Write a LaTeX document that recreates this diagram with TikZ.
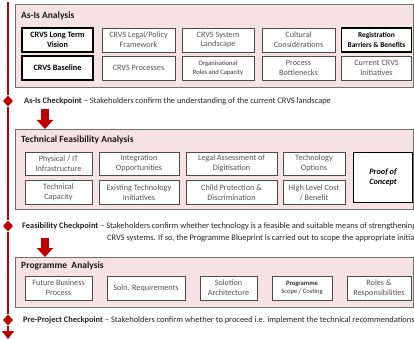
\documentclass[tikz,border=0pt]{standalone}
\usepackage{fontspec}
\setmainfont{Carlito}
\usetikzlibrary{arrows.meta,shapes.geometric}
\definecolor{pinkbg}{HTML}{F6E2E2}
\definecolor{panelline}{HTML}{6E6E6E}
\definecolor{boxline}{HTML}{4A4A4A}
\definecolor{txtgray}{HTML}{555555}
\definecolor{cpred}{HTML}{C00000}
\definecolor{cptext}{HTML}{262626}
\tikzset{
  panel/.style={draw=panelline, line width=1.3pt, fill=pinkbg, anchor=north west, inner sep=0pt},
  ptitle/.style={anchor=west, inner sep=0pt, font=\fontsize{9.5}{11}\selectfont\bfseries, text=black!90},
  box/.style={draw=boxline, line width=0.9pt, fill=white, align=center, inner sep=0pt,
    font=\fontsize{8.2}{9.8}\selectfont, text=txtgray},
  keybox/.style={box, draw=black, line width=1.1pt, text=black, font=\fontsize{8.2}{9.8}\selectfont\bfseries},
  cp/.style={anchor=west, inner sep=0pt, font=\fontsize{8.4}{9.8}\selectfont, text=cptext},
  cpdiam/.style={diamond, fill=cpred, minimum width=10pt, minimum height=11pt, inner sep=0pt},
  redline/.style={draw=cpred, line width=1.6pt},
  blockarrow/.style={draw=cpred, line width=8pt, -{Triangle[width=16pt,length=9pt]}},
}
\begin{document}
\begin{tikzpicture}[x=1pt,y=-1pt]
\useasboundingbox (0,0) rectangle (414,339);
\clip (0,0) rectangle (414,339);
\fill[white] (0,0) rectangle (414,339);

% panels
\node[panel, minimum width=398pt, minimum height=83pt] (p1) at (15,4) {};
\node[panel, minimum width=398pt, minimum height=80pt] (p2) at (15,129) {};
\node[panel, minimum width=398pt, minimum height=50pt] (p3) at (15,257) {};

% titles
\node[ptitle] (t1) at (21,16) {As-Is Analysis};
\node[ptitle] (t2) at (21,140) {Technical Feasibility Analysis};
\node[ptitle] (t3) at (21,266) {Programme\ \ Analysis};

% As-Is boxes
\node[keybox, minimum width=71pt, minimum height=24pt] (a11) at (57.5,40) {CRVS Long Term\\Vision};
\node[box, minimum width=73pt, minimum height=24pt] (a12) at (138.5,40) {CRVS Legal/Policy\\Framework};
\node[box, minimum width=72pt, minimum height=24pt] (a13) at (218,40) {CRVS System\\Landscape};
\node[box, minimum width=73pt, minimum height=24pt] (a14) at (298.5,40) {Cultural\\Considerations};
\node[keybox, minimum width=70pt, minimum height=24pt, font=\fontsize{7.4}{9.6}\selectfont\bfseries] (a15) at (376.5,40) {Registration\\Barriers \& Benefits};
\node[keybox, minimum width=71pt, minimum height=24pt] (a21) at (57.5,68) {CRVS Baseline};
\node[box, minimum width=73pt, minimum height=24pt] (a22) at (138.5,68) {CRVS Processes};
\node[box, minimum width=72pt, minimum height=24pt, font=\fontsize{6.6}{8.8}\selectfont, text=black!80] (a23) at (218,68) {Organisational\\Roles and Capacity};
\node[box, minimum width=73pt, minimum height=24pt] (a24) at (298.5,68) {Process\\Bottlenecks};
\node[box, minimum width=70pt, minimum height=24pt] (a25) at (376.5,68) {Current CRVS\\Initiatives};

% Technical feasibility boxes
\node[box, minimum width=67pt, minimum height=23pt] (b11) at (58.5,163.5) {Physical / IT\\Infrastructure};
\node[box, minimum width=80pt, minimum height=23pt] (b12) at (139,163.5) {Integration\\Opportunities};
\node[box, minimum width=91pt, minimum height=23pt] (b13) at (231.5,163.5) {Legal Assessment of\\Digitisation};
\node[box, minimum width=62pt, minimum height=23pt] (b14) at (314,163.5) {Technology\\Options};
\node[box, minimum width=67pt, minimum height=24pt] (b21) at (58.5,192.5) {Technical\\Capacity};
\node[box, minimum width=80pt, minimum height=24pt] (b22) at (139,192.5) {Existing Technology\\Initiatives};
\node[box, minimum width=91pt, minimum height=24pt] (b23) at (231.5,192.5) {Child Protection \&\\Discrimination};
\node[box, minimum width=62pt, minimum height=24pt] (b24) at (314,192.5) {High Level Cost\\/ Benefit};
\node[keybox, minimum width=59pt, minimum height=50pt, font=\fontsize{8.2}{9.8}\selectfont\bfseries\itshape, line width=1pt] (poc) at (383,177) {Proof of\\Concept};

% Programme boxes
\node[box, minimum width=67pt, minimum height=24pt] (c1) at (58.5,288) {Future Business\\Process};
\node[box, minimum width=78pt, minimum height=24pt] (c2) at (146,288) {Soln. Requirements};
\node[box, minimum width=57pt, minimum height=24pt] (c3) at (228.5,288) {Solution\\Architecture};
\node[box, minimum width=60pt, minimum height=24pt, font=\fontsize{6.6}{8.8}\selectfont, text=black!80] (c4) at (302,288) {\textbf{Programme}\\Scope / Costing};
\node[box, minimum width=64pt, minimum height=24pt] (c5) at (379,288) {Roles \&\\Responsibilities};

% timeline
\coordinate (ltop) at (8,2);
\coordinate (lbot) at (8,339);
\node[cpdiam] (d1) at (8,101) {};
\node[cpdiam] (d2) at (8,226) {};
\node[cpdiam] (d3) at (8,320) {};
\draw[redline] (ltop) -- (d1) -- (d2) -- (d3);
\draw[redline, -{Triangle[width=12pt,length=8pt]}] (d3) -- (lbot);

% checkpoints
\node[cp] (cp1) at (24,101) {\textbf{As-Is Checkpoint} -- Stakeholders confirm the understanding of the current CRVS landscape};
\node[cp] (cp2) at (22,226) {\textbf{Feasibility Checkpoint} -- Stakeholders confirm whether technology is a feasible and suitable means of strengthening};
\node[cp] (cp2b) at (107,238) {CRVS systems. If so, the Programme Blueprint is carried out to scope the appropriate initiatives};
\node[cp] (cp3) at (23,320) {\textbf{Pre-Project Checkpoint} -- Stakeholders confirm whether to proceed i.e. implement the technical recommendations};

% block arrows
\coordinate (ar1) at (45,109);
\coordinate (ar2) at (45,238);
\draw[blockarrow] (ar1) -- (ar1 |- p2.north);
\draw[blockarrow] (ar2) -- (ar2 |- p3.north);
\end{tikzpicture}
\end{document}
